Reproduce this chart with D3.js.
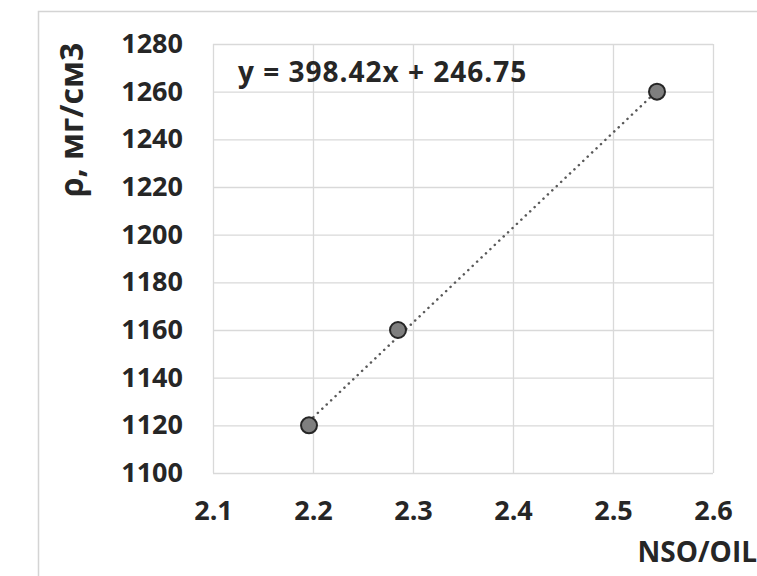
<!DOCTYPE html>
<html lang="ru">
<head>
    <meta charset="UTF-8">
    <title>NSO/OIL vs density</title>
    <script src="https://d3js.org/d3.v7.min.js"></script>
    <style>
        body { margin: 0; background: #fff; }
        text { font-family: "Open Sans", "Liberation Sans", sans-serif; font-weight: bold; fill: #262626; }
        .grid line { stroke: #d9d9d9; stroke-width: 1.3; }
        .grid .domain { display: none; }
    </style>
</head>
<body>
    <div id="chart"></div>

    <script>
        // data
        var nsoOil = [2.196, 2.285, 2.544];
        var density = [1120, 1160, 1260];
        var xTicks = [2.1, 2.2, 2.3, 2.4, 2.5, 2.6];
        var yTicks = [1100, 1120, 1140, 1160, 1180, 1200, 1220, 1240, 1260, 1280];
        var slope = 398.42, intercept = 246.75;

        var svg = d3.select("#chart")
            .append("svg")
            .attr("width", 757)
            .attr("height", 576);

        // outer chart frame (cut off on the right and bottom)
        svg.append("rect")
            .attr("x", 38.5)
            .attr("y", 11.5)
            .attr("width", 800)
            .attr("height", 700)
            .attr("fill", "none")
            .attr("stroke", "#d4d4d4")
            .attr("stroke-width", 1.5);

        var margin = { top: 44, left: 213 };
        var width = 500, height = 429;

        var x = d3.scaleLinear().domain([2.1, 2.6]).range([0, width]);
        var y = d3.scaleLinear().domain([1100, 1280]).range([height, 0]);

        var g = svg.append("g")
            .attr("transform", "translate(" + margin.left + "," + margin.top + ")");

        // gridlines + tick labels
        g.append("g")
            .attr("class", "grid")
            .attr("transform", "translate(0," + height + ")")
            .call(d3.axisBottom(x).tickValues(xTicks).tickSize(-height).tickPadding(28)
                .tickFormat(d3.format(".1f")));

        g.append("g")
            .attr("class", "grid")
            .call(d3.axisLeft(y).tickValues(yTicks).tickSize(-width).tickPadding(30)
                .tickFormat(d3.format("d")));

        svg.selectAll(".grid text")
            .style("font-size", "27px")
            .attr("fill", "#262626");

        // equation text
        g.append("text")
            .attr("x", 25)
            .attr("y", 38)
            .style("font-size", "28px")
            .style("letter-spacing", "1px")
            .text("y = 398.42x + 246.75");

        // dotted trendline
        var xr = d3.extent(nsoOil);
        g.append("line")
            .attr("x1", x(xr[0]))
            .attr("y1", y(slope * xr[0] + intercept))
            .attr("x2", x(xr[1]))
            .attr("y2", y(slope * xr[1] + intercept))
            .attr("stroke", "#595959")
            .attr("stroke-width", 2.5)
            .attr("stroke-linecap", "round")
            .attr("stroke-dasharray", "0.1,6");

        // points
        g.selectAll(".pt")
            .data(nsoOil)
            .enter().append("circle")
            .attr("class", "pt")
            .attr("cx", function(d) { return x(d); })
            .attr("cy", function(d, i) { return y(density[i]); })
            .attr("r", 8)
            .attr("fill", "#7f7f7f")
            .attr("stroke", "#262626")
            .attr("stroke-width", 2);

        // axis titles
        svg.append("text")
            .attr("transform", "translate(83,120) rotate(-90)")
            .attr("text-anchor", "middle")
            .style("font-size", "32px")
            .text("ρ, мг/см3");

        svg.append("text")
            .attr("x", 757)
            .attr("y", 562)
            .attr("text-anchor", "end")
            .style("font-size", "28px")
            .text("NSO/OIL");
    </script>
</body>
</html>
